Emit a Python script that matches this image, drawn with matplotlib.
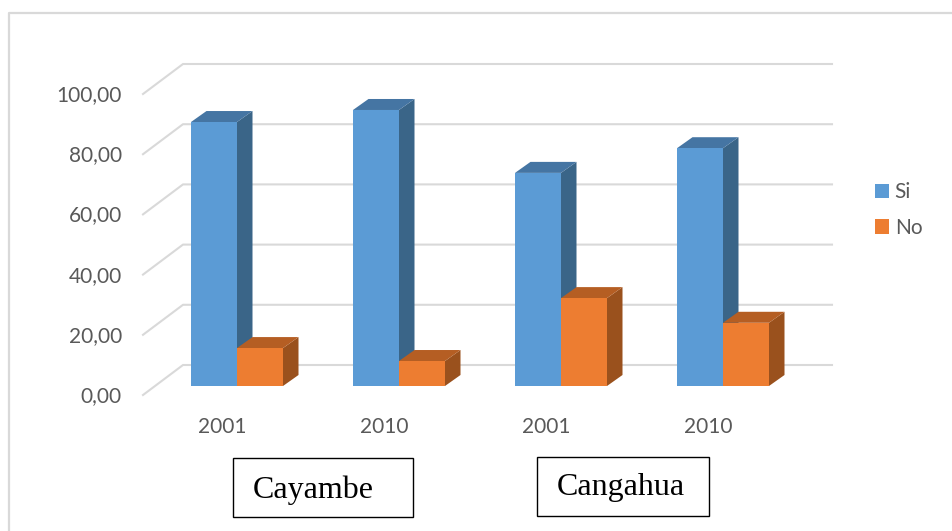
import matplotlib
matplotlib.use('Agg')
import matplotlib.pyplot as plt
from matplotlib.patches import Patch, Polygon, Rectangle

# values
years = ['2001', '2010', '2001', '2010']
si = [87.7, 91.7, 70.8, 79.0]
no = [12.6, 8.3, 29.2, 21.0]
ticks = [0, 20, 40, 60, 80, 100]
tick_labels = ['0,00', '20,00', '40,00', '60,00', '80,00', '100,00']
places = ['Cayambe', 'Cangahua']

W, H = 953, 531
PX_X = 162.0    # px per group
PX_Y = 3.01     # px per unit of value
X0, Y0 = 237, 386   # pixel of group 0 / value 0

BAR = 46 / PX_X
DX = 15.5 / PX_X
DY = 11 / PX_Y

plt.rcParams['font.family'] = ['Lato', 'DejaVu Sans']
fig = plt.figure(figsize=(W / 100, H / 100), dpi=100)
ax = fig.add_axes([0, 0, 1, 1])
ax.set_xlim(-X0 / PX_X, (W - X0) / PX_X)
ax.set_ylim((Y0 - H) / PX_Y, Y0 / PX_Y)
ax.axis('off')


def px(x):
    return (x - X0) / PX_X


def py(y):
    return (Y0 - y) / PX_Y


def bar3d(x, val, front, top, side):
    ax.add_patch(Polygon([(x + BAR, 0), (x + BAR + DX, DY), (x + BAR + DX, val + DY), (x + BAR, val)],
                         fc=side, ec='none', zorder=3))
    ax.add_patch(Polygon([(x, val), (x + DX, val + DY), (x + BAR + DX, val + DY), (x + BAR, val)],
                         fc=top, ec='none', zorder=3))
    ax.add_patch(Rectangle((x, 0), BAR, val, fc=front, ec='none', zorder=3))


# outer chart frame
ax.plot([px(W + 5), px(9), px(9)], [py(13), py(13), py(H + 5)], color='#d9d9d9', lw=1.6, zorder=1)

# gridlines: floor/wall fold
for t, lab in zip(ticks, tick_labels):
    ax.plot([px(143), px(183), px(832)], [t + py(395), t + py(365), t + py(365)],
            color='#d9d9d9', lw=1.5, zorder=2)
    ax.text(px(122), t + py(396), lab, ha='right', va='center', fontsize=15, color='#595959')

for i in range(len(years)):
    bar3d(i - BAR, si[i], '#5b9bd5', '#4575a3', '#3a6588')
    bar3d(i, no[i], '#ed7d31', '#b55e23', '#9a511d')
    ax.text(i - 15 / PX_X, py(427), years[i], ha='center', va='center', fontsize=15, color='#595959')

# text boxes with the place names
boxes = [(233, 458, 413, 517), (537, 457, 709, 516)]
for name, (x0, y0, x1, y1), tx in zip(places, boxes, [313, 621]):
    ax.add_patch(Rectangle((px(x0), py(y1)), (x1 - x0) / PX_X, (y1 - y0) / PX_Y,
                           fc='white', ec='black', lw=1.0, zorder=4))
    ax.text(px(tx), py(490 if name == 'Cayambe' else 488), name, ha='center', va='center', fontsize=23,
            family=['Liberation Serif'], color='black', zorder=5)

handles = [Patch(fc='#5b9bd5', label='Si'), Patch(fc='#ed7d31', label='No')]
ax.legend(handles=handles, loc='center left', bbox_to_anchor=(867 / W, 1 - 210 / H), frameon=False,
          fontsize=15, labelcolor='#595959', handlelength=0.68, handleheight=0.68, handletextpad=0.25,
          labelspacing=0.75, borderpad=0, borderaxespad=0.4)

fig.savefig('out.png', dpi=100)
